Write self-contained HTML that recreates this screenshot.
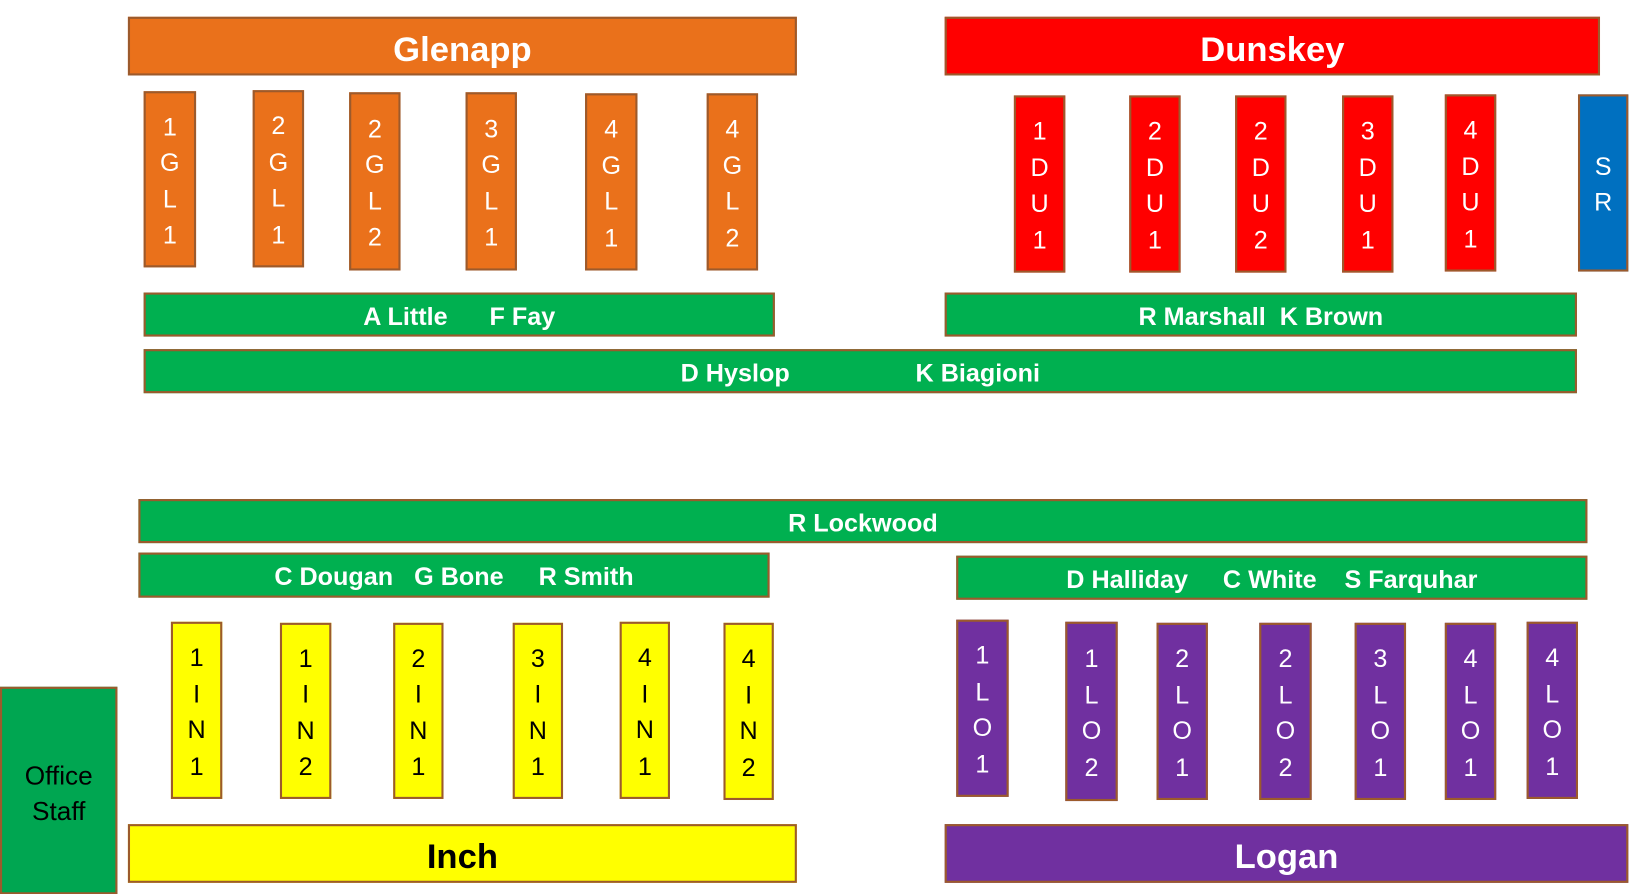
<!DOCTYPE html>
<html><head><meta charset="utf-8"><style>
html,body{margin:0;padding:0;background:#fff;width:1645px;height:894px;overflow:hidden}
#w{position:absolute;left:0;top:0;width:1569px;height:853px;transform:scale(1.0485);transform-origin:0 0;font-family:"Liberation Sans",sans-serif}
.b{position:absolute;box-sizing:border-box;border:2px solid #9c5a2c;display:flex;align-items:center;justify-content:center;text-align:center;padding-top:5px}
.o{background:#ea711b;color:#fff}.r{background:#ff0000;color:#fff}.g{background:#00b050;color:#fff}
.y{background:#ffff00;color:#000}.p{background:#7030a0;color:#fff}.bl{background:#0070c0;color:#fff}
.h{font-size:33px;font-weight:bold}
.c{font-size:24px;line-height:34.5px;white-space:pre}
.t{font-size:24px;white-space:pre;font-weight:bold}
</style></head><body><div id="w">
<div class="b o h" style="left:122px;top:16px;width:638px;height:56px">Glenapp</div>
<div class="b r h" style="left:901px;top:16px;width:625px;height:56px">Dunskey</div>
<div class="b o c" style="left:137px;top:87px;width:50px;height:168px">1<br>G<br>L<br>1</div>
<div class="b o c" style="left:241px;top:86px;width:49px;height:169px">2<br>G<br>L<br>1</div>
<div class="b o c" style="left:333px;top:88px;width:49px;height:170px">2<br>G<br>L<br>2</div>
<div class="b o c" style="left:444px;top:88px;width:49px;height:170px">3<br>G<br>L<br>1</div>
<div class="b o c" style="left:558px;top:89px;width:50px;height:169px">4<br>G<br>L<br>1</div>
<div class="b o c" style="left:674px;top:89px;width:49px;height:169px">4<br>G<br>L<br>2</div>
<div class="b r c" style="left:967px;top:91px;width:49px;height:169px">1<br>D<br>U<br>1</div>
<div class="b r c" style="left:1077px;top:91px;width:49px;height:169px">2<br>D<br>U<br>1</div>
<div class="b r c" style="left:1178px;top:91px;width:49px;height:169px">2<br>D<br>U<br>2</div>
<div class="b r c" style="left:1280px;top:91px;width:49px;height:169px">3<br>D<br>U<br>1</div>
<div class="b r c" style="left:1378px;top:90px;width:49px;height:169px">4<br>D<br>U<br>1</div>
<div class="b bl c" style="left:1505px;top:90px;width:48px;height:169px">S<br>R</div>
<div class="b g t" style="left:137px;top:279px;width:602px;height:42px">A Little      F Fay</div>
<div class="b g t" style="left:901px;top:279px;width:603px;height:42px">R Marshall  K Brown</div>
<div class="b g t" style="left:137px;top:333px;width:1367px;height:42px">D Hyslop                  K Biagioni</div>
<div class="b g t" style="left:132px;top:476px;width:1382px;height:42px">R Lockwood</div>
<div class="b g t" style="left:132px;top:527px;width:602px;height:43px">C Dougan   G Bone     R Smith</div>
<div class="b g t" style="left:912px;top:530px;width:602px;height:42px">D Halliday     C White    S Farquhar</div>
<div class="b y c" style="left:163px;top:593px;width:49px;height:169px">1<br>I<br>N<br>1</div>
<div class="b y c" style="left:267px;top:594px;width:49px;height:168px">1<br>I<br>N<br>2</div>
<div class="b y c" style="left:375px;top:594px;width:48px;height:168px">2<br>I<br>N<br>1</div>
<div class="b y c" style="left:489px;top:594px;width:48px;height:168px">3<br>I<br>N<br>1</div>
<div class="b y c" style="left:591px;top:593px;width:48px;height:169px">4<br>I<br>N<br>1</div>
<div class="b y c" style="left:690px;top:594px;width:48px;height:169px">4<br>I<br>N<br>2</div>
<div class="b p c" style="left:912px;top:591px;width:50px;height:169px">1<br>L<br>O<br>1</div>
<div class="b p c" style="left:1016px;top:593px;width:50px;height:171px">1<br>L<br>O<br>2</div>
<div class="b p c" style="left:1103px;top:594px;width:49px;height:169px">2<br>L<br>O<br>1</div>
<div class="b p c" style="left:1201px;top:594px;width:50px;height:169px">2<br>L<br>O<br>2</div>
<div class="b p c" style="left:1292px;top:594px;width:49px;height:169px">3<br>L<br>O<br>1</div>
<div class="b p c" style="left:1378px;top:594px;width:49px;height:169px">4<br>L<br>O<br>1</div>
<div class="b p c" style="left:1456px;top:593px;width:49px;height:169px">4<br>L<br>O<br>1</div>
<div class="b y h" style="left:122px;top:786px;width:638px;height:56px">Inch</div>
<div class="b p h" style="left:901px;top:786px;width:652px;height:56px">Logan</div>
<div class="b g" style="left:0;top:655px;width:112px;height:198px;background:#00a651;color:#000;font-size:25px;line-height:34px">Office<br>Staff</div>
</div></body></html>
